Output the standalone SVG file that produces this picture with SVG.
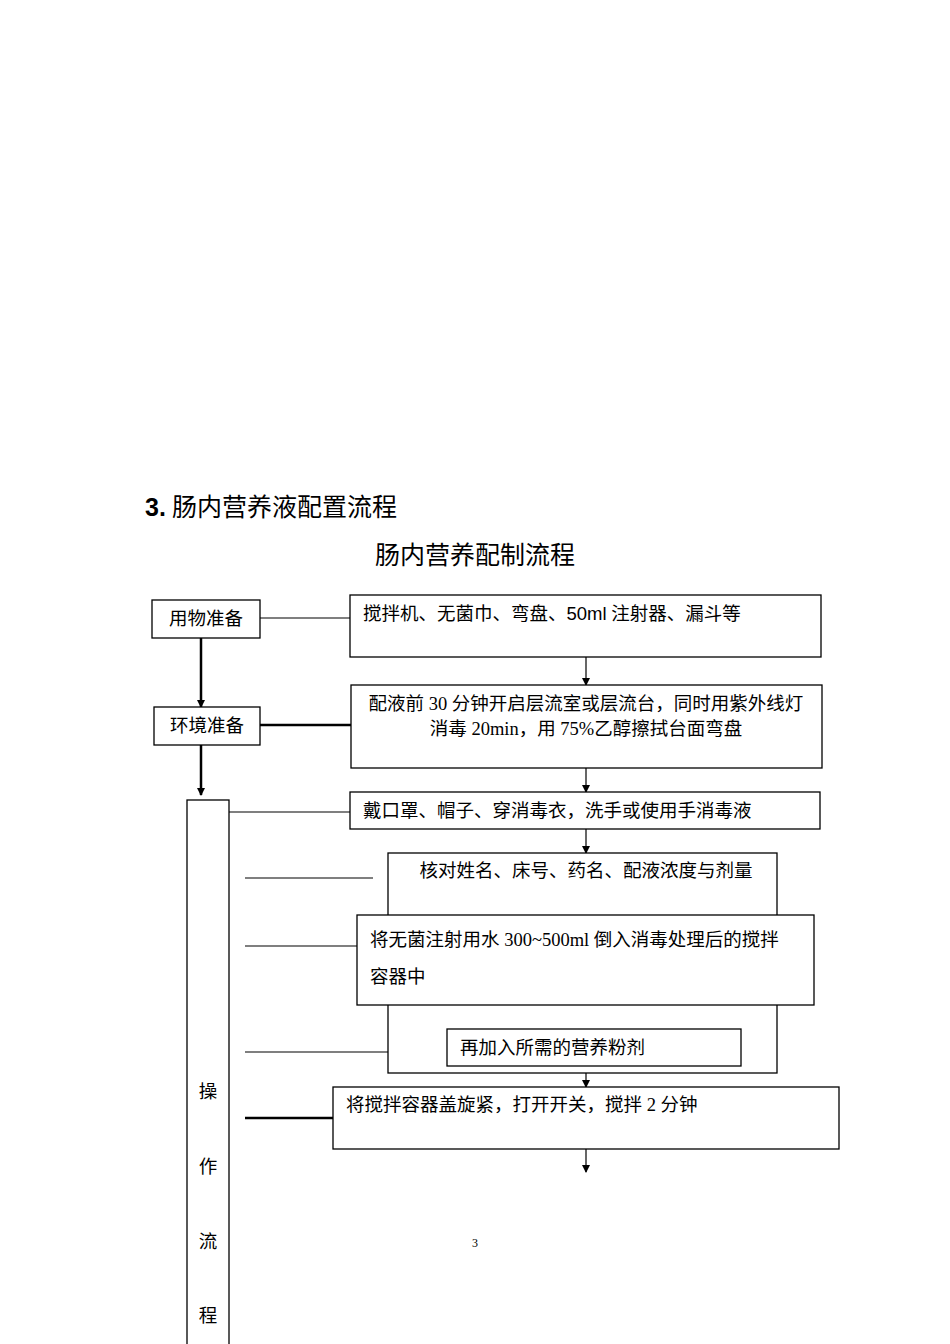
<svg xmlns="http://www.w3.org/2000/svg" width="950" height="1344" viewBox="0 0 950 1344">
<style>
text{font-family:"Liberation Serif","Noto Sans CJK SC",serif;fill:#000}
.b{fill:#fff;stroke:#000;stroke-width:1.3}
.l{stroke:#000;stroke-width:1.2;fill:none}
.t{stroke:#000;stroke-width:2.5;fill:none}
.s{font-size:18.5px}
</style>
<defs><marker id="a" markerWidth="8" markerHeight="8" refX="7" refY="4" orient="auto" markerUnits="userSpaceOnUse"><path d="M0,0L8,4L0,8z" fill="#000"/></marker></defs>
<rect width="950" height="1344" fill="#fff"/>
<text x="145" y="516" font-size="25"><tspan font-family="Liberation Sans,sans-serif" font-weight="bold">3.</tspan> 肠内营养液配置流程</text>
<text x="475" y="564" font-size="25" text-anchor="middle">肠内营养配制流程</text>
<g id="connectors">
<line class="l" x1="260" y1="618" x2="350" y2="618"/>
<line class="t" x1="260" y1="725" x2="351" y2="725"/>
<line class="l" x1="229" y1="812" x2="350" y2="812"/>
<line class="l" x1="245" y1="878" x2="373" y2="878"/>
<line class="l" x1="245" y1="946" x2="357" y2="946"/>
<line class="l" x1="245" y1="1052" x2="433" y2="1052"/>
<line class="t" x1="245" y1="1118" x2="333" y2="1118"/>
<line class="t" x1="201" y1="638" x2="201" y2="707" marker-end="url(#a)"/>
<line class="t" x1="201" y1="745" x2="201" y2="795" marker-end="url(#a)"/>
<g class="l" marker-end="url(#a)">
<line x1="586" y1="657" x2="586" y2="685"/>
<line x1="586" y1="768" x2="586" y2="792"/>
<line x1="586" y1="829" x2="586" y2="853"/>
<line x1="586" y1="893" x2="586" y2="915"/>
<line x1="586" y1="1005" x2="586" y2="1029"/>
<line x1="586" y1="1066" x2="586" y2="1087"/>
<line x1="586" y1="1149" x2="586" y2="1172"/>
</g>
</g>
<g id="n1"><rect class="b" x="152" y="600" width="108" height="38"/><text class="s" x="206" y="625" text-anchor="middle">用物准备</text></g>
<g id="n2"><rect class="b" x="350" y="595" width="471" height="62"/><text class="s" x="363" y="620">搅拌机、无菌巾、弯盘、<tspan font-family="Liberation Sans,sans-serif">50ml</tspan> 注射器、漏斗等</text></g>
<g id="n3"><rect class="b" x="154" y="707" width="106" height="38"/><text class="s" x="207" y="732" text-anchor="middle">环境准备</text></g>
<g id="n4"><rect class="b" x="351" y="685" width="471" height="83"/><text class="s" x="586" y="710" text-anchor="middle">配液前 30 分钟开启层流室或层流台，同时用紫外线灯</text><text class="s" x="586" y="735" text-anchor="middle">消毒 20min，用 75%乙醇擦拭台面弯盘</text></g>
<g id="n5"><rect class="b" x="187" y="800" width="42" height="560"/><text class="s" x="208" y="1098" text-anchor="middle">操</text><text class="s" x="208" y="1173" text-anchor="middle">作</text><text class="s" x="208" y="1248" text-anchor="middle">流</text><text class="s" x="208" y="1322" text-anchor="middle">程</text></g>
<g id="n6"><rect class="b" x="350" y="792" width="470" height="37"/><text class="s" x="363" y="817">戴口罩、帽子、穿消毒衣，洗手或使用手消毒液</text></g>
<g id="n7"><rect class="b" x="388" y="853" width="389" height="220"/><text class="s" x="586" y="877" text-anchor="middle">核对姓名、床号、药名、配液浓度与剂量</text></g>
<g id="n8"><rect class="b" x="357" y="915" width="457" height="90"/><text class="s" x="370" y="946">将无菌注射用水 300~500ml 倒入消毒处理后的搅拌</text><text class="s" x="370" y="983">容器中</text></g>
<g id="n9"><rect class="b" x="447" y="1029" width="294" height="37"/><text class="s" x="460" y="1054">再加入所需的营养粉剂</text></g>
<g id="n10"><rect class="b" x="333" y="1087" width="506" height="62"/><text class="s" x="346" y="1111">将搅拌容器盖旋紧，打开开关，搅拌 2 分钟</text></g>
<text x="475" y="1247" font-size="12" text-anchor="middle" font-family="Liberation Sans,sans-serif">3</text>
</svg>
